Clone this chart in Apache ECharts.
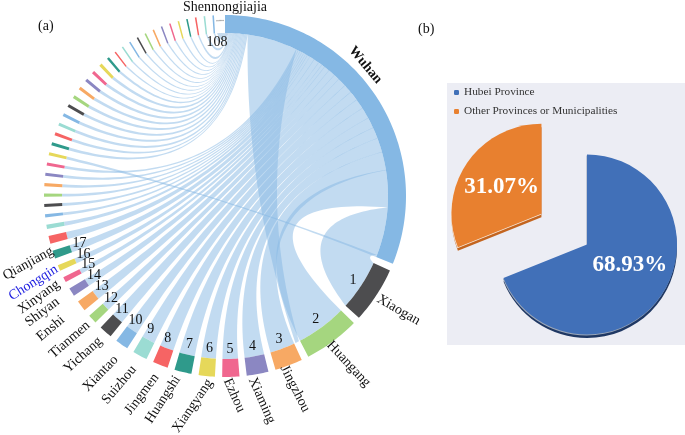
<!DOCTYPE html>
<html><head><meta charset="utf-8">
<style>html,body{margin:0;padding:0;background:#fff}#c{width:685px;height:435px}</style>
<script src="https://cdn.jsdelivr.net/npm/echarts@6/dist/echarts.min.js"></script>
</head><body><div id="c"></div>
<script>
// ---------- data ----------
const labelledNames = ['Wuhan','Xiaogan','Huangang','Jingzhou','Xiaming','Ezhou','Xiangyang','Huangshi','Jingmen','Suizhou','Xiantao','Yichang','Tianmen','Enshi','Shiyan','Xinyang','Chongqin','Qianjiang'];
const lastCityName = 'Shennongjiajia';
const cityShare = [112,18,18,8.9,7,5.5,5.2,5.5,4.9,4.7,4.2,4.2,2.9,3.4,2.7,1.7,1.9,2.6,2.5,1.4,
 1,1,1,1,1,1,1,1,1,1,1,1,1,1,1,1,1,.8,
 .5,.5,.5,.5,.5,.5,.5,.5,.5,.5,.5,.5,.5,
 .043,.043,.043,.043,.043,.043,.043,.043,.043,.043,.043,.043,.043,.043,.043,.043,.043,.043,.043,.043,
 .043,.043,.043,.043,.043,.043,.043,.043,.043,.043,.043,.043,.043,.043,.043,.043,.043,.043,.043,.043,
 .043,.043,.043,.043,.043,.043,.043,.043,.043,.043,.043,.043,.043,.043,.043,.043,.043,.043];
const flowAtWuhan = [0,17.2,13.1,6.5,5.1,4,3.8,4,3.6,3.4,3.1,3.1,2.1,2.5,2,1.2,1.4,1.9,1.8,1,.73,.73,.74,.73,.73,.74,.8,
 .4,.4,.4,.4,.4,.4,.4,.4,.4,.4,.32,
 .2,.2,.2,.2,.2,.2,.2,.2,.2,.2,.2,.2,.2,
 .02,.02,.02,.02,.02,.02,.02,.02,.02,.02,.02,.02,.02,.02,.02,.02,.02,.02,.02,.02,
 .02,.02,.02,.02,.02,.02,.02,.02,.02,.02,.02,.02,.02,.02,.02,.02,.02,.02,.02,.02,
 .02,.02,.02,.02,.02,.02,.02,.02,.02,.02,.02,.02,.02,.02,.02,.02,.02,.02];
const crossFlow = 18;
const pieNames = ['Hubei Province','Other Provinces or Municipalities'];
const pieValues = [68.93,31.07];

// ---------- style ----------
const palette = ['#4d4d4f','#a5d67f','#f7a964','#8b87c2','#f0678f','#e6d85a','#2f9a8b','#f66464','#9bdcd3','#85b8e4'];
const wuhanColor = '#85b8e4';
const labelRotation = [0,30,47,63,66,66,-56,-57,-53,-50,-46,-42,-41,-40,-37,-36,-32,-29];
const labelRadius = [0,184,180,180,184,183,185,187,192,194,195,190,187,203,197,188,183,181];
const labelAngle = [0,123.7,144.7,161,171.6,179.4,184.7,194.7,201,208,214,221,227,233,238,242.5,246.8,252.6];
const serif = '"Liberation Serif","Times New Roman",serif';
const R = 181, R0 = 163;
// how far a ribbon's control point stays from the centre, by angular separation of its ends
const pullStops = [[0,1],[6,.87],[12,.67],[31,.45],[75,.05],[90,0],[360,0]];
function autoPull(sep){
  for(let k=1;k<pullStops.length;k++){
    if(sep<=pullStops[k][0]){const a=pullStops[k-1],b=pullStops[k];return a[1]+(b[1]-a[1])*(sep-a[0])/(b[0]-a[0]);}
  }
  return 0;
}

// ---------- layout of the ring ----------
const spans = []; let cur = 0;
cityShare.forEach((v,i)=>{ spans.push([cur,cur+v]); cur += v + (i<50?2.3:(i===50?0.7:0)); });
const nodeRows = spans.map((s,i)=>[s[0],s[1],i]);
const ribbonRows = [];
let w = spans[0][1];
function take(i,pull,lap){ const f=flowAtWuhan[i]; ribbonRows.push([spans[i][0],spans[i][1],w-f-(lap||0),w,pull]); w-=f; }
take(26,0); take(1,-1);
take(2,0,.15);
for(let i=3;i<=25;i++) take(i,-1,.15);
ribbonRows.push([spans[2][1]+.4,spans[2][1]+1.8,w-crossFlow,w,.43]); w-=crossFlow;
for(let i=27;i<cityShare.length;i++) take(i,-1);

const labelRows = labelledNames.map((n,i)=>i).filter(i=>i>0);

function sector(api,r0,r,a0,a1){
  const pts=[], n=Math.max(2,Math.ceil(a1-a0)+1);
  for(let k=0;k<=n;k++){const c=api.coord([r,a0+(a1-a0)*k/n]);pts.push([c[0],c[1]]);}
  for(let k=n;k>=0;k--){const c=api.coord([r0,a0+(a1-a0)*k/n]);pts.push([c[0],c[1]]);}
  return pts;
}
function curve(P0,P2,C,out){
  for(let k=0;k<=48;k++){const t=k/48,u=1-t;
    out.push([u*u*P0[0]+2*u*t*C[0]+t*t*P2[0],u*u*P0[1]+2*u*t*C[1]+t*t*P2[1]]);}
}
function ribbon(params,api){
  const t0=api.value(0),t1=api.value(1),w0=api.value(2),w1=api.value(3),pull=api.value(4);
  const O=api.coord([0,0]);
  const ctrl=(a,b,aa,ab)=>{
    let d=Math.abs(aa-ab); d=Math.min(d,360-d);
    const p=pull<0?autoPull(d):pull;
    return [O[0]+p*((a[0]+b[0])/2-O[0]),O[1]+p*((a[1]+b[1])/2-O[1])];
  };
  const pts=[];
  const W1=api.coord([R0,w1]),T0=api.coord([R0,t0]),T1=api.coord([R0,t1]),W0=api.coord([R0,w0]);
  curve(W1,T0,ctrl(W1,T0,w1,t0),pts);
  const T=Math.ceil(t1-t0)+1;
  for(let k=1;k<T;k++){const c=api.coord([R0,t0+(t1-t0)*k/T]);pts.push([c[0],c[1]]);}
  curve(T1,W0,ctrl(T1,W0,t1,w0),pts);
  const Wn=Math.ceil(w1-w0)+1;
  for(let k=1;k<Wn;k++){const c=api.coord([R0,w0+(w1-w0)*k/Wn]);pts.push([c[0],c[1]]);}
  return {type:'polygon',shape:{points:pts},style:{fill:wuhanColor,opacity:.5}};
}
function node(params,api){
  const i=api.value(2);
  if(i>50){
    // the 58 hair-thin cities only show as a faint dotted trace in the ring
    if(i%10>=5) return null;
    return {type:'polygon',shape:{points:sector(api,R-6,R-5,api.value(0),api.value(1))},style:{fill:'#a9a9a9',stroke:'#a9a9a9',lineWidth:.15}};
  }
  const col=i===0?wuhanColor:palette[(i-1)%10];
  return {type:'polygon',shape:{points:sector(api,R0,R,api.value(0),api.value(1))},style:{fill:col}};
}
function txt(pos,rotDeg,text,align,font,fill){
  return {type:'text',x:pos[0],y:pos[1],rotation:-rotDeg*Math.PI/180,
    style:{text:text,font:font,fill:fill||'#111',align:align,verticalAlign:'middle'}};
}
function cityLabel(params,api){
  const i=labelRows[params.dataIndex], s=spans[i], mid=(s[0]+s[1])/2;
  const kids=[];
  const p=api.coord([labelRadius[i],labelAngle[i]]);
  kids.push(txt(p,labelRotation[i],labelledNames[i],mid<180?'left':'right','14px '+serif,i===16?'#1c1ce0':'#111'));
  const q=api.coord([153,mid+(mid>200?1:0)]);
  kids.push(txt(q,0,String(i),'center','14px '+serif));
  return {type:'group',children:kids};
}
function extraLabels(params,api){
  return {type:'group',children:[
    txt(api.coord([192,47]),50,labelledNames[0],'center','bold 14px '+serif),
    txt(api.coord([189,360]),0,lastCityName,'center','14px '+serif),
    txt(api.coord([154,357]),0,String(spans.length-1),'center','14px '+serif)
  ]};
}

function pieLayer(name,centerPt,colors,z,withLabels){
  return {
    type:'pie',name:name,center:centerPt,radius:[0,90],startAngle:90,clockwise:true,z:z,
    selectedMode:'single',selectedOffset:55,silent:true,animation:false,
    label:{show:false},labelLine:{show:false},
    select:{itemStyle:{borderWidth:0}},
    data:pieNames.map((n,i)=>({name:n,value:pieValues[i],selected:i===1,
      itemStyle:{color:colors[i]},select:{itemStyle:{color:colors[i],borderWidth:0}},
      label:withLabels?{show:true,position:'inside',formatter:'{c}%',color:'#fff',fontFamily:serif,fontWeight:'bold',fontSize:23,
        offset:i===0?[3,-6.5]:[-4,11]}:{show:false}}))
  };
}

const chart=echarts.init(document.getElementById('c'),null,{renderer:'canvas'});
chart.setOption({
  animation:false,
  backgroundColor:'#fff',
  polar:{center:[225,196],radius:[0,R]},
  angleAxis:{type:'value',min:0,max:360,startAngle:90,clockwise:true,show:false},
  radiusAxis:{type:'value',min:0,max:R,show:false},
  legend:{orient:'vertical',left:449,top:82,itemWidth:5,itemHeight:5,itemGap:8,icon:'roundRect',
    data:pieNames,selectedMode:false,textStyle:{fontFamily:serif,fontSize:11.3,color:'#333'}},
  graphic:[
    {type:'rect',z:-1,shape:{x:447,y:83,width:238,height:262},style:{fill:'#ecedf4'}},
    {type:'text',left:38,top:19,style:{text:'(a)',font:'14px '+serif,fill:'#111'}},
    {type:'text',left:418,top:22,style:{text:'(b)',font:'14px '+serif,fill:'#111'}}
  ],
  series:[
    {type:'custom',name:'links',coordinateSystem:'polar',renderItem:ribbon,data:ribbonRows,clip:false,silent:true,z:2},
    {type:'custom',name:'cities',coordinateSystem:'polar',renderItem:node,data:nodeRows,clip:false,silent:true,z:3},
    {type:'custom',name:'cityLabels',coordinateSystem:'polar',renderItem:cityLabel,data:labelRows.map(i=>[0,spans[i][0]]),clip:false,silent:true,z:4},
    {type:'custom',name:'extraLabels',coordinateSystem:'polar',renderItem:extraLabels,data:[[0,0]],clip:false,silent:true,z:4},
    pieLayer('share',[587,244.5],['#4170b8','#e8802f'],5,true),
    pieLayer('edge',[587,248],['#1f3864','#c4651f'],3,false),
    pieLayer('rim',[586.5,245.5],['#9aa6b8','#f6eadf'],4,false)
  ]
});
</script></body></html>
